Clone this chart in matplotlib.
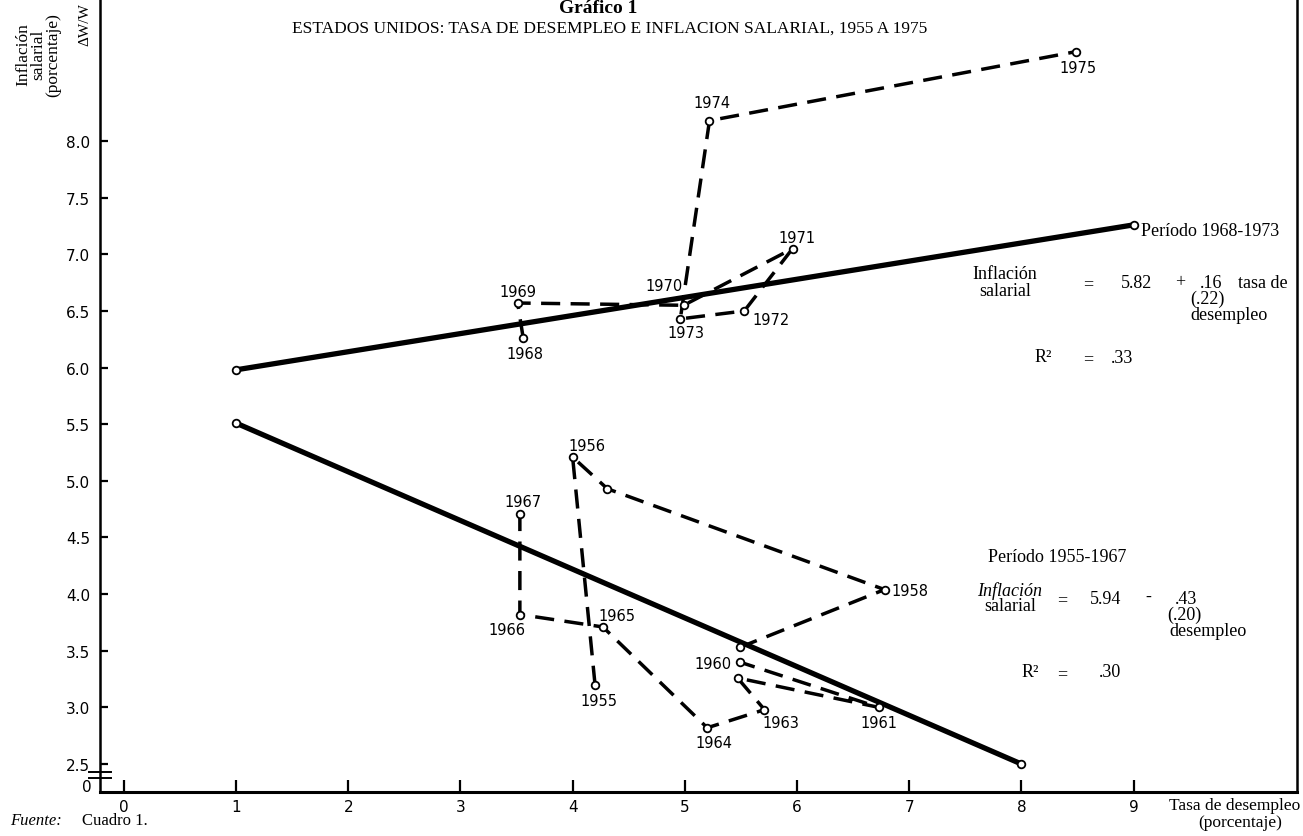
import matplotlib
matplotlib.use("Agg")
import matplotlib.pyplot as plt
import numpy as np

# ---------------- data ----------------
years_a = [1955, 1956, 1957, 1958, 1959, 1960, 1961, 1962, 1963, 1964, 1965, 1966, 1967]
unemp_a = [4.20, 4.00, 4.31, 6.78, 5.49, 5.49, 6.73, 5.47, 5.71, 5.20, 4.27, 3.53, 3.53]
infl_a = [3.20, 5.21, 4.93, 4.04, 3.53, 3.40, 3.00, 3.26, 2.98, 2.82, 3.71, 3.82, 4.71]

years_b = [1968, 1969, 1970, 1971, 1972, 1973, 1974, 1975]
unemp_b = [3.56, 3.51, 4.99, 5.96, 5.53, 4.96, 5.22, 8.49]
infl_b = [6.26, 6.57, 6.55, 7.05, 6.50, 6.43, 8.18, 8.79]

# regressions: intercept, slope, std. error, R2, x range
fit_a = dict(a=5.94, b=-0.43, se=0.20, r2=0.30, x0=1, x1=8)
fit_b = dict(a=5.82, b=0.16, se=0.22, r2=0.33, x0=1, x1=9)

unlabeled = [1957, 1959, 1962]

xticks = list(range(0, 10))
yticks = [2.5, 3.0, 3.5, 4.0, 4.5, 5.0, 5.5, 6.0, 6.5, 7.0, 7.5, 8.0]

# label offsets (points) relative to each point
label_offsets = {
    1955: (3, -11), 1956: (10, 8), 1958: (18, -1), 1960: (-19, -1),
    1961: (0, -11), 1963: (12, -9.5), 1964: (5, -10.5), 1965: (10, 8),
    1966: (-9.5, -11), 1967: (2, 8.5), 1968: (1, -11), 1969: (0, 8),
    1970: (-14, 14), 1971: (3, 8), 1972: (19, -6), 1973: (4, -9.5),
    1974: (2, 13), 1975: (1.5, -11.5),
}

# ---------------- figure ----------------
W, H = 1303, 837
fig = plt.figure(figsize=(W / 100, H / 100), dpi=100)
ax = fig.add_axes([100 / W, 44 / H, (1297 - 100) / W, 793 / H])
ax.set_xlim(-0.212, 10.456)
ax.set_ylim(2.253, 9.254)

SERIF = "Liberation Serif"
SANS = "DejaVu Sans"

dash = (0, (5.5, 3))
for xs, ys in ((unemp_a, infl_a), (unemp_b, infl_b)):
    ax.plot(xs, ys, color="black", lw=2.5, ls=dash, marker="o", ms=5.5,
            mfc="white", mec="black", mew=1.3, zorder=3)

for f in (fit_a, fit_b):
    xs = np.array([f["x0"], f["x1"]], dtype=float)
    ys = f["a"] + f["b"] * xs
    ax.plot(xs, ys, color="black", lw=3.8, solid_capstyle="butt", zorder=2)
    ax.plot(xs, ys, ls="none", marker="o", ms=5.5, mfc="white",
            mec="black", mew=1.3, zorder=4)

for yrs, xs, ys in ((years_a, unemp_a, infl_a), (years_b, unemp_b, infl_b)):
    for yr, x, y in zip(yrs, xs, ys):
        if yr in unlabeled:
            continue
        ox, oy = label_offsets[yr]
        ax.annotate(str(yr), (x, y), xytext=(ox, oy), textcoords="offset points",
                    ha="center", va="center", fontsize=10.5, family=SANS, zorder=5)

# axes styling
ax.spines["top"].set_visible(False)
ax.spines["left"].set_linewidth(1.8)
ax.spines["right"].set_linewidth(1.8)
ax.spines["bottom"].set_linewidth(2.2)
ax.set_xticks(xticks)
ax.set_xticklabels([str(t) for t in xticks], family=SANS, fontsize=11)
ax.set_yticks(yticks)
ax.set_yticklabels([f"{t:.1f}" for t in yticks], family=SANS, fontsize=11)
ax.tick_params(axis="x", direction="in", length=9, width=1.6, pad=5)
ax.tick_params(axis="y", direction="in", length=6, width=1.6, pad=7)

# axis break on y
ytr = ax.get_yaxis_transform()
for yb in (2.43, 2.375):
    ax.plot([-0.009, 0.009], [yb, yb], color="black", lw=1.4, transform=ytr, clip_on=False)
ax.annotate("0", (0, 0), xycoords="axes fraction", xytext=(-6, 4),
            textcoords="offset points", ha="right", va="center", fontsize=11, family=SANS)


def ptxt(px, py, s, **kw):
    kw.setdefault("family", SERIF)
    kw.setdefault("fontsize", 13)
    kw.setdefault("ha", "center")
    kw.setdefault("va", "center")
    fig.text(px / W, 1 - py / H, s, **kw)


# titles
ptxt(598, 13, "Gráfico 1", fontsize=14, weight="bold", va="baseline")
ptxt(610, 29, "ESTADOS UNIDOS: TASA DE DESEMPLEO E INFLACION SALARIAL, 1955 A 1975",
     fontsize=12.5)

# y label
ptxt(38, 55, "Inflación\nsalarial\n(porcentaje)", rotation=90, fontsize=12.5,
     linespacing=0.92, multialignment="center")
ptxt(85, 25, "ΔW/W", rotation=90, fontsize=11)

# x label
ptxt(1300, 806, "Tasa de desempleo", ha="right", fontsize=12.5)
ptxt(1240, 823, "(porcentaje)", fontsize=12.5)

# source
ptxt(10, 821, "Fuente:", ha="left", style="italic", fontsize=12)
ptxt(82, 821, "Cuadro 1.", ha="left", fontsize=12)

# upper block: 1968-1973
ptxt(1141, 232, f"Período {years_b[0]}-{years_b[-3]}", ha="left")
ptxt(1005, 275, "Inflación")
ptxt(1005, 292, "salarial")
ptxt(1088, 285, "=")
ptxt(1137, 283, f"{fit_b['a']:.2f}")
ptxt(1180, 283, "+")
ptxt(1211, 283, f"{abs(fit_b['b']):.2f}".lstrip("0"))
ptxt(1263, 283, "tasa de")
ptxt(1207, 299, f"({fit_b['se']:.2f})".replace("0.", "."))
ptxt(1229, 316, "desempleo")
ptxt(1043, 358, "R²")
ptxt(1088, 360, "=")
ptxt(1122, 359, f"{fit_b['r2']:.2f}".lstrip("0"))

# lower block: 1955-1967
ptxt(988, 557, f"Período {years_a[0]}-{years_a[-1]}", ha="left")
ptxt(1010, 591, "Inflación", style="italic")
ptxt(1010, 607, "salarial")
ptxt(1062, 601, "=")
ptxt(1106, 600, f"{fit_a['a']:.2f}")
ptxt(1148, 597, "-")
ptxt(1186, 600, f"{abs(fit_a['b']):.2f}".lstrip("0"))
ptxt(1184, 615, f"({fit_a['se']:.2f})".replace("0.", "."))
ptxt(1208, 631, "desempleo")
ptxt(1030, 673, "R²")
ptxt(1062, 675, "=")
ptxt(1110, 673, f"{fit_a['r2']:.2f}".lstrip("0"))

fig.savefig("out.png", dpi=100)
